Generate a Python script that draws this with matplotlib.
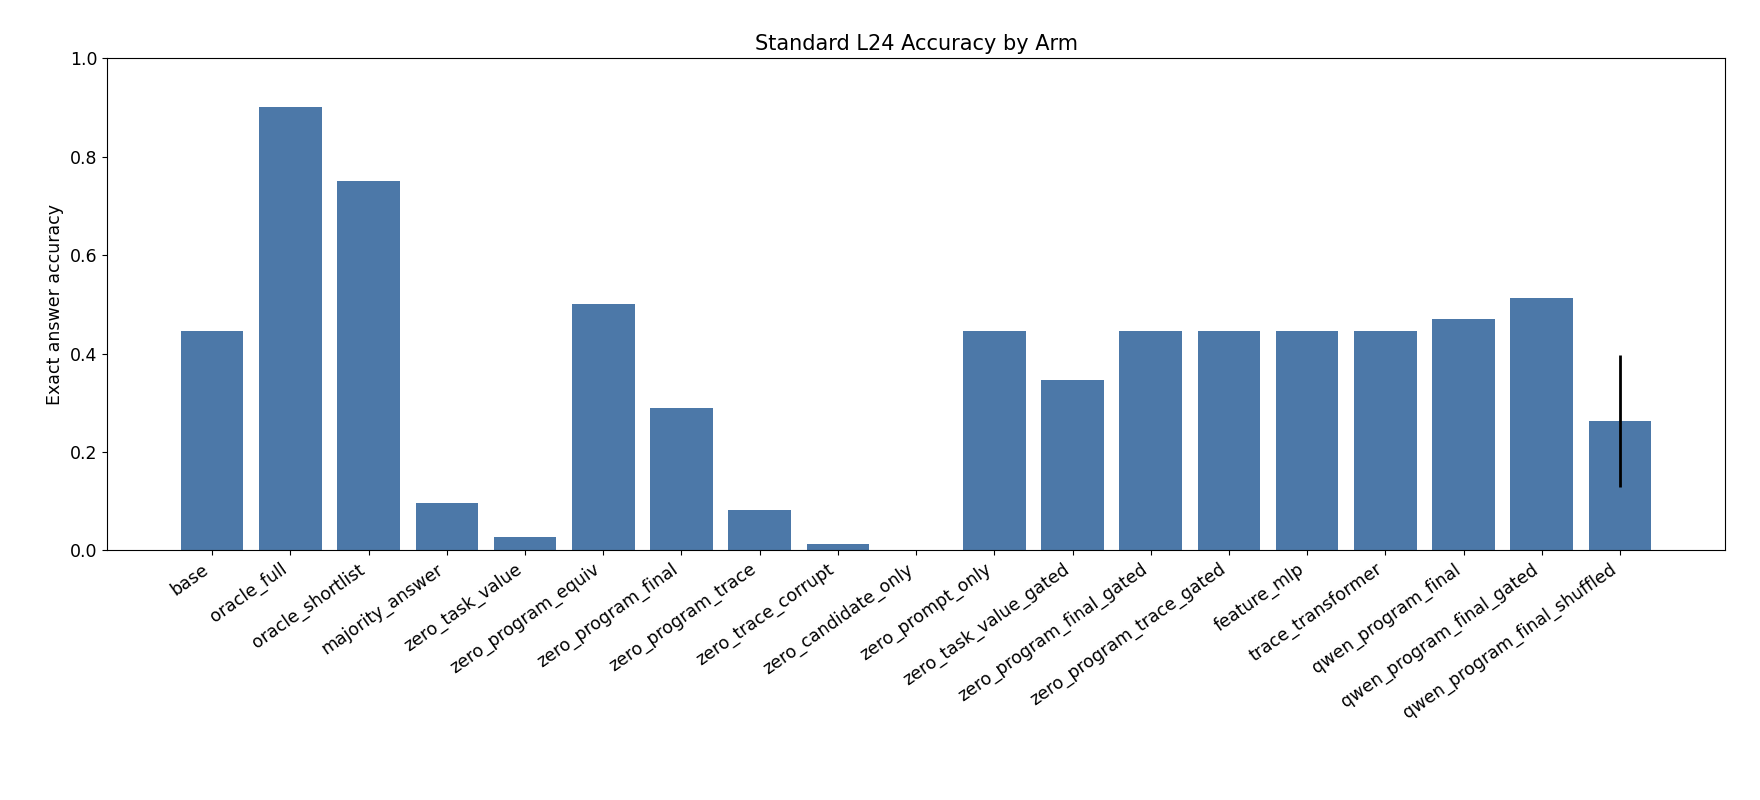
import matplotlib
matplotlib.use("Agg")
import matplotlib.pyplot as plt
import numpy as np

arms = ["base","oracle_full","oracle_shortlist","majority_answer","zero_task_value",
        "zero_program_equiv","zero_program_final","zero_program_trace","zero_trace_corrupt",
        "zero_candidate_only","zero_prompt_only","zero_task_value_gated","zero_program_final_gated",
        "zero_program_trace_gated","feature_mlp","trace_transformer","qwen_program_final",
        "qwen_program_final_gated","qwen_program_final_shuffled"]
accuracy = [0.445,0.902,0.751,0.096,0.027,0.5,0.29,0.082,0.014,0.0,0.445,0.347,0.445,
            0.445,0.445,0.445,0.471,0.514,0.263]
errors = [0]*18 + [0.135]

fig, ax = plt.subplots(figsize=(17.6, 8), dpi=100)
x = np.arange(len(arms))
yerr = [e if e > 0 else np.nan for e in errors]
ax.bar(x, accuracy, color="#4c78a8", yerr=yerr, ecolor="black", error_kw=dict(lw=2))
ax.set_xticks(x)
ax.set_xticklabels(arms, rotation=35, ha="right", fontsize=12.5)
ax.tick_params(axis="y", labelsize=12.5)
ax.set_ylim(0, 1.0)
ax.set_ylabel("Exact answer accuracy", fontsize=12.5)
ax.set_title("Standard L24 Accuracy by Arm", fontsize=15)
fig.subplots_adjust(left=0.061, right=0.98, top=0.927, bottom=0.312)
fig.savefig("out.png")
